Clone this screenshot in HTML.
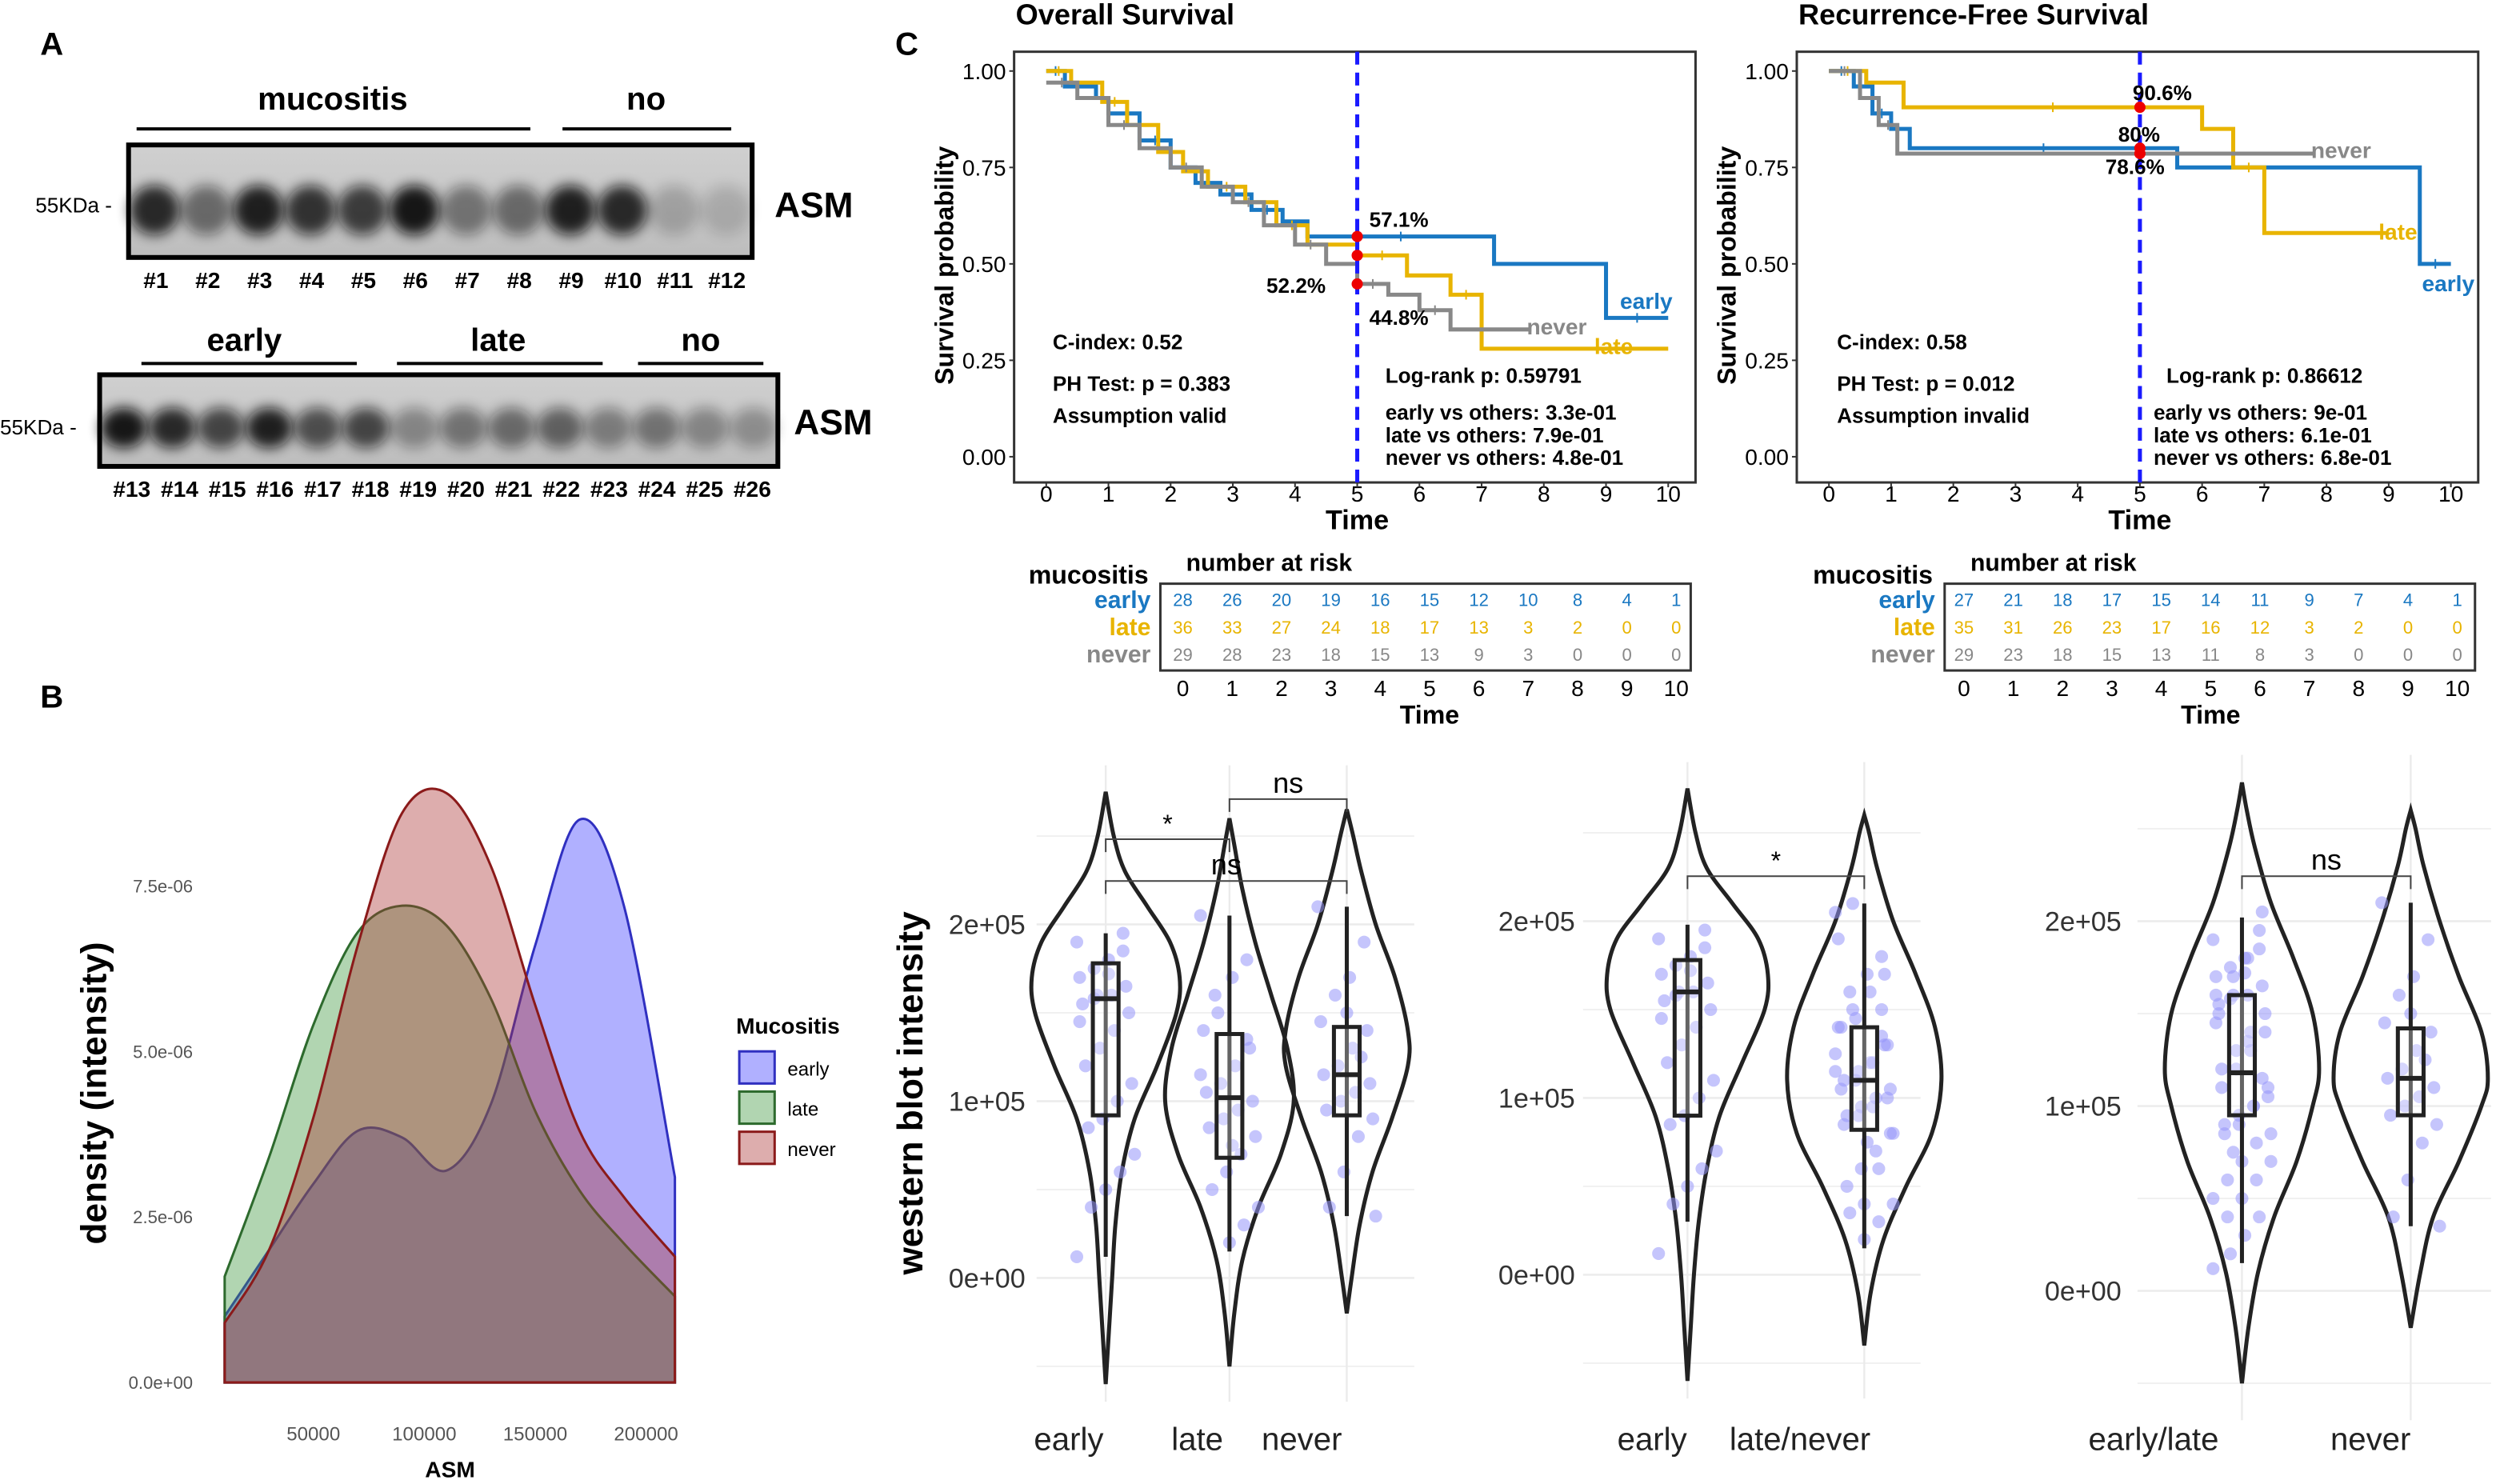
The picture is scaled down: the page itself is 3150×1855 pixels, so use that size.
<!DOCTYPE html>
<html><head><meta charset="utf-8"><style>
html,body{margin:0;padding:0;background:#fff;}
svg{display:block;}
text{font-family:"Liberation Sans",Arial,sans-serif;}
</style></head><body>
<svg id="fig" xmlns="http://www.w3.org/2000/svg" width="3150" height="1855" viewBox="0 0 1568 923">
<defs>
<filter id="blur" x="-50%" y="-50%" width="200%" height="200%"><feGaussianBlur stdDeviation="4"/></filter>
<linearGradient id="blotbg" x1="0" y1="0" x2="0" y2="1"><stop offset="0" stop-color="#d0d0d0"/><stop offset="1" stop-color="#bdbdbd"/></linearGradient>
</defs>
</svg>
<script>
// ---------- DATA ----------
const blotTop=[0.85,0.5,0.9,0.8,0.75,0.95,0.45,0.5,0.9,0.85,0.2,0.15];
const blotBottom=[0.95,0.85,0.7,0.9,0.65,0.7,0.35,0.45,0.5,0.55,0.4,0.45,0.35,0.3];
const densX=[10000,30000,50000,70000,90000,110000,130000,150000,170000,190000,213000];
const densEarly=[1.0,2.0,3.0,3.8,3.7,3.2,4.2,6.6,8.5,7.2,3.1];
const densLate=[1.6,3.4,5.4,6.8,7.2,6.9,5.8,4.1,2.9,2.1,1.3];
const densNever=[0.9,2.0,4.0,6.6,8.6,8.9,7.8,5.7,3.8,2.8,1.9];
const densYTicks=[0,2.5,5.0,7.5];
const densYLabels=["0.0e+00","2.5e-06","5.0e-06","7.5e-06"];
const densXTicks=[50000,100000,150000,200000];
const os_early_t=[0,0.3,0.8,1.0,1.5,2.0,2.4,2.8,3.3,3.8,4.2,7.2,9.0,10.0];
const os_early_s=[1,0.96,0.93,0.89,0.82,0.75,0.71,0.68,0.64,0.61,0.571,0.50,0.36,0.36];
const os_late_t=[0,0.4,0.9,1.3,1.8,2.2,2.6,3.2,3.7,4.2,5.0,5.8,6.5,7.0,10];
const os_late_s=[1,0.97,0.92,0.86,0.79,0.74,0.7,0.66,0.6,0.55,0.522,0.47,0.42,0.28,0.28];
const os_never_t=[0,0.5,1.0,1.5,2.0,2.5,3.0,3.5,4.0,4.5,5.0,5.5,6.0,6.5,7.8];
const os_never_s=[0.97,0.93,0.86,0.8,0.75,0.7,0.66,0.6,0.55,0.5,0.448,0.42,0.38,0.33,0.33];
const rfs_early_t=[0,0.4,0.7,1.0,1.3,5.6,9.5,10];
const rfs_early_s=[1,0.96,0.89,0.85,0.80,0.75,0.5,0.5];
const rfs_late_t=[0,0.6,1.2,6.0,6.5,7.0,9.0];
const rfs_late_s=[1,0.97,0.906,0.85,0.75,0.58,0.58];
const rfs_never_t=[0,0.5,0.8,1.1,7.8];
const rfs_never_s=[1,0.93,0.86,0.786,0.786];
const kmYTicks=[0,0.25,0.5,0.75,1.0];
const kmYLabels=["0.00","0.25","0.50","0.75","1.00"];
const kmXTicks=[0,1,2,3,4,5,6,7,8,9,10];
const risk1Early=[28,26,20,19,16,15,12,10,8,4,1];
const risk1Late=[36,33,27,24,18,17,13,3,2,0,0];
const risk1Never=[29,28,23,18,15,13,9,3,0,0,0];
const risk2Early=[27,21,18,17,15,14,11,9,7,4,1];
const risk2Late=[35,31,26,23,17,16,12,3,2,0,0];
const risk2Never=[29,23,18,15,13,11,8,3,0,0,0];
const vYTicks=[0,1,2];
const vYLabels=["0e+00","1e+05","2e+05"];
const v1EarlyVals=[-0.6,-0.3,0,0.3,0.6,0.9,1.2,1.5,1.7,1.9,2.1,2.3,2.5,2.75];
const v1EarlyW=[0,2,4,6,10,18,32,44,46,40,26,12,5,0];
const v1LateVals=[-0.5,-0.2,0.1,0.4,0.7,1.0,1.3,1.6,1.9,2.2,2.45,2.6];
const v1LateW=[0,3,8,18,32,40,36,26,16,8,3,0];
const v1NeverVals=[-0.2,0,0.3,0.6,0.9,1.2,1.4,1.7,2.0,2.3,2.5,2.65];
const v1NeverW=[0,3,8,16,28,38,38,30,18,9,4,0];
const v2EarlyVals=[-0.6,-0.3,0,0.3,0.6,0.9,1.2,1.5,1.7,1.9,2.1,2.3,2.5,2.75];
const v2EarlyW=[0,2,4,7,12,20,34,48,50,44,28,12,5,0];
const v2LNVals=[-0.4,-0.1,0.2,0.5,0.8,1.1,1.4,1.7,2.0,2.3,2.5,2.6];
const v2LNW=[0,4,12,26,42,48,44,32,18,8,3,0];
const v3ELVals=[-0.5,-0.2,0.1,0.4,0.7,1.0,1.2,1.5,1.8,2.1,2.4,2.6,2.75];
const v3ELW=[0,4,10,20,34,44,48,44,32,18,8,3,0];
const v3NVals=[-0.2,0.1,0.4,0.7,1.0,1.15,1.4,1.7,2.0,2.3,2.5,2.6];
const v3NW=[0,6,14,30,44,48,44,30,18,8,3,0];
const box1Early=[0.12,0.92,1.58,1.78,1.95];
const box1Late=[0.15,0.68,1.02,1.38,2.05];
const box1Never=[0.35,0.92,1.15,1.42,2.1];
const box2Early=[0.3,0.9,1.6,1.78,1.98];
const box2LN=[0.15,0.82,1.1,1.4,2.1];
const box3EL=[0.15,0.95,1.18,1.6,2.02];
const box3N=[0.35,0.95,1.15,1.42,2.1];
const ptsEarly=[1.9,1.85,1.8,1.75,1.7,1.65,1.6,1.6,1.55,1.5,1.4,1.3,1.2,1.1,1.0,0.9,0.85,0.7,0.6,0.5,0.4,0.12,1.95,1.72,1.58,1.45];
const ptsLate=[2.05,1.8,1.7,1.5,1.4,1.3,1.2,1.1,1.05,1.0,0.95,0.9,0.85,0.8,0.7,0.6,0.5,0.4,0.3,0.2,1.6,1.15,1.35,0.75];
const ptsNever=[2.1,1.9,1.7,1.6,1.45,1.4,1.3,1.2,1.15,1.1,1.05,1.0,0.95,0.9,0.8,0.6,0.4,0.35,1.25,1.5];

// ---------- HELPERS ----------
const NS='http://www.w3.org/2000/svg';
const svg=document.getElementById('fig');
function mk(tag,attrs,parent){const e=document.createElementNS(NS,tag);for(const k in attrs)e.setAttribute(k,attrs[k]);(parent||svg).appendChild(e);return e;}
function grp(name,parent){const g=mk('g',{},parent);


return g;}
function txt(x,y,s,size,extra,parent){const a=Object.assign({x:x,y:y,'font-size':size},extra||{});const t=mk('text',a,parent);t.textContent=s;

return t;}
function smooth(p){let d='M'+p[0][0]+','+p[0][1];for(let i=0;i<p.length-1;i++){const p0=p[i-1]||p[i],p1=p[i],p2=p[i+1],p3=p[i+2]||p2;
const c1=[p1[0]+(p2[0]-p0[0])/6,p1[1]+(p2[1]-p0[1])/6],c2=[p2[0]-(p3[0]-p1[0])/6,p2[1]-(p3[1]-p1[1])/6];
d+=' C'+c1[0]+','+c1[1]+' '+c2[0]+','+c2[1]+' '+p2[0]+','+p2[1];}return d;}

// ---------- PANEL A ----------
const gA=grp('panel-a-western-blot');
let t=txt(25,34,'A',20,{'font-weight':'bold'},gA);

function blot(x,y,w,h,vals,labelStart,labelX0,labelDx,labelY,name){
 const g=grp(name,gA);
 const r=mk('rect',{x:x,y:y,width:w,height:h,fill:'url(#blotbg)'},g);
 
 const lw=w/vals.length;
 vals.forEach((v,i)=>{const e=mk('ellipse',{cx:x+lw*(i+0.5),cy:y+h*0.58,rx:lw*0.48,ry:h*0.22,fill:'#111',opacity:v,filter:'url(#blur)'},g);
 
 const l=txt(labelX0+labelDx*i,labelY,'#'+(labelStart+i),14,{'font-weight':'bold','text-anchor':'middle'},g);
 });
 const b=mk('rect',{x:x,y:y,width:w,height:h,fill:'none',stroke:'#000','stroke-width':3},g);
 
}
blot(80,90,388,70,blotTop,1,97,32.3,179,'blot-top');
blot(62,233,422,57,blotBottom,13,82,29.7,309,'blot-bottom');
[[85,330,80,'mucositis',207,68],[350,455,80,'no',402,68],[88,222,226,'early',152,218],[247,375,226,'late',310,218],[397,475,226,'no',436,218]].forEach(a=>{
 const l=mk('line',{x1:a[0],x2:a[1],y1:a[2],y2:a[2],stroke:'#000','stroke-width':2},gA);
 
 const tt=txt(a[4],a[5],a[3],20,{'font-weight':'bold','text-anchor':'middle'},gA);
 });
t=txt(22,132,'55KDa -',13,{},gA);
t=txt(0,270,'55KDa -',13,{},gA);
t=txt(482,135,'ASM',22,{'font-weight':'bold'},gA);
t=txt(494,270,'ASM',22,{'font-weight':'bold'},gA);

// ---------- PANEL B ----------
const gB=grp('panel-b-density');
t=txt(25,440,'B',20,{'font-weight':'bold'},gB);
const dx=v=>195+(v-50000)*69/50000, dy=d=>860-d*41.2;
function dens(arr,fill,stroke,name){const pts=densX.map((v,i)=>[dx(v),dy(arr[i])]);
 const d=smooth(pts)+' L'+dx(densX[densX.length-1])+','+dy(0)+' L'+dx(densX[0])+','+dy(0)+' Z';
 const p=mk('path',{d:d,fill:fill,stroke:stroke,'stroke-width':1.5},gB);
 }
dens(densEarly,'rgba(80,80,255,0.45)','#3030c0','density-early');
dens(densLate,'rgba(60,150,60,0.4)','#2d6a2d','density-late');
dens(densNever,'rgba(170,50,50,0.4)','#8b1a1a','density-never');
densYTicks.forEach((v,i)=>{const l=txt(120,dy(v)+4,densYLabels[i],11,{'text-anchor':'end',fill:'#555'},gB);});
densXTicks.forEach(v=>{const l=txt(dx(v),896,String(v),12,{'text-anchor':'middle',fill:'#555'},gB);});
t=txt(280,919,'ASM',14,{'font-weight':'bold','text-anchor':'middle'},gB);
t=txt(0,0,'density (intensity)',22,{'font-weight':'bold','text-anchor':'middle',transform:'translate(66,680) rotate(-90)'},gB);
t=txt(458,643,'Mucositis',14,{'font-weight':'bold'},gB);
[['early','rgba(80,80,255,0.45)','#3030c0'],['late','rgba(60,150,60,0.4)','#2d6a2d'],['never','rgba(170,50,50,0.4)','#8b1a1a']].forEach((a,i)=>{
 const r=mk('rect',{x:460,y:654+i*25,width:22,height:20,fill:a[1],stroke:a[2],'stroke-width':1.5},gB);
 
 const l=txt(490,669+i*25,a[0],12,{},gB);});

// ---------- PANEL C: KM ----------
const gC=grp('panel-c-survival');
t=txt(557,34,'C',20,{'font-weight':'bold'},gC);
const yk=s=>284-s*240;
const colE='#1a78c2',colL='#e8b400',colN='#888';
function km(x0,boxX,title,curves,name,ann,texts){
 const g=grp(name,gC);
 const xk=tt=>x0+tt*38.7;
 const b=mk('rect',{x:boxX,y:32,width:424,height:268,fill:'none',stroke:'#333','stroke-width':1.5},g);
 
 const ti=txt(boxX+1,15,title,18,{'font-weight':'bold'},g);
 kmYTicks.forEach((v,i)=>{const l=txt(boxX-5,yk(v)+5,kmYLabels[i],14,{'text-anchor':'end'},g);
 const tk=mk('line',{x1:boxX-3,x2:boxX,y1:yk(v),y2:yk(v),stroke:'#333'},g);});
 kmXTicks.forEach(v=>{const l=txt(xk(v),312,String(v),14,{'text-anchor':'middle'},g);
 const tk=mk('line',{x1:xk(v),x2:xk(v),y1:300,y2:303,stroke:'#333'},g);});
 const tm=txt(xk(5),329,'Time',17,{'font-weight':'bold','text-anchor':'middle'},g);
 const yt=txt(0,0,'Survival probability',16,{'font-weight':'bold','text-anchor':'middle',transform:'translate('+(boxX-38)+',165) rotate(-90)'},g);
 curves.forEach(c=>{let d='M'+xk(c.t[0])+','+yk(c.s[0]);for(let i=1;i<c.t.length;i++){d+=' H'+xk(c.t[i])+' V'+yk(c.s[i]);}
  const p=mk('path',{d:d,fill:'none',stroke:c.col,'stroke-width':2.5},g);
  
  for(let i=1;i<c.t.length;i+=2){const m=mk('line',{x1:xk((c.t[i-1]+c.t[i])/2),x2:xk((c.t[i-1]+c.t[i])/2),y1:yk(c.s[i-1])-3,y2:yk(c.s[i-1])+3,stroke:c.col,'stroke-width':1},g);
  }
  const l=txt(c.lx,c.ly,c.n,14,{'font-weight':'bold',fill:c.col},g);});
 const dl=mk('line',{x1:xk(5),x2:xk(5),y1:32,y2:300,stroke:'#1a1aff','stroke-width':2.5,'stroke-dasharray':'8,5'},g);
 
 ann.forEach(a=>{const c=mk('circle',{cx:xk(5),cy:yk(a[0]),r:3.5,fill:'#e00'},g);
  const l=txt(a[1],a[2],a[3],13,{'font-weight':'bold'},g);});
 texts.forEach(a=>{const l=txt(a[0],a[1],a[2],13,{'font-weight':'bold'},g);});
}
km(651,631,'Overall Survival',[
 {t:os_early_t,s:os_early_s,col:colE,n:'early',lx:1008,ly:192},
 {t:os_late_t,s:os_late_s,col:colL,n:'late',lx:992,ly:220},
 {t:os_never_t,s:os_never_s,col:colN,n:'never',lx:950,ly:208}],'km-overall-survival',
 [[0.571,852,141,'57.1%'],[0.522,788,182,'52.2%'],[0.448,852,202,'44.8%']],
 [[655,217,'C-index: 0.52'],[655,243,'PH Test: p = 0.383'],[655,263,'Assumption valid'],[862,238,'Log-rank p: 0.59791'],[862,261,'early vs others:  3.3e-01'],[862,275,'late vs others:  7.9e-01'],[862,289,'never vs others:  4.8e-01']]);
km(1138,1118,'Recurrence-Free Survival',[
 {t:rfs_early_t,s:rfs_early_s,col:colE,n:'early',lx:1507,ly:181},
 {t:rfs_late_t,s:rfs_late_s,col:colL,n:'late',lx:1480,ly:149},
 {t:rfs_never_t,s:rfs_never_s,col:colN,n:'never',lx:1438,ly:98}],'km-recurrence-free-survival',
 [[0.906,1327,62,'90.6%'],[0.8,1318,88,'80%'],[0.786,1310,108,'78.6%']],
 [[1143,217,'C-index: 0.58'],[1143,243,'PH Test: p = 0.012'],[1143,263,'Assumption invalid'],[1348,238,'Log-rank p: 0.86612'],[1340,261,'early vs others:  9e-01'],[1340,275,'late vs others:  6.1e-01'],[1340,289,'never vs others:  6.8e-01']]);

function risk(x0,boxX,rows,name){
 const g=grp(name,gC);
 const xr=tt=>x0+tt*30.7;
 let l=txt(boxX-82,363,'mucositis',16,{'font-weight':'bold'},g);
 l=txt(boxX+16,355,'number at risk',15,{'font-weight':'bold'},g);
 const b=mk('rect',{x:boxX,y:363,width:330,height:54,fill:'none',stroke:'#333','stroke-width':1.5},g);
 rows.forEach((r,j)=>{const y=378+j*17;
  const lb=txt(boxX-6,y,r.n,15,{'text-anchor':'end',fill:r.col,'font-weight':'bold'},g);
  r.v.forEach((v,i)=>{const c=txt(xr(i),y-1,String(v),11,{'text-anchor':'middle',fill:r.col},g);});});
 kmXTicks.forEach(v=>{const c=txt(xr(v),433,String(v),14,{'text-anchor':'middle'},g);});
 l=txt(xr(5),450,'Time',16,{'font-weight':'bold','text-anchor':'middle'},g);
}
risk(736,722,[{n:'early',v:risk1Early,col:colE},{n:'late',v:risk1Late,col:colL},{n:'never',v:risk1Never,col:colN}],'risk-table-overall');
risk(1222,1210,[{n:'early',v:risk2Early,col:colE},{n:'late',v:risk2Late,col:colL},{n:'never',v:risk2Never,col:colN}],'risk-table-recurrence');

// ---------- VIOLINS ----------
const gV=grp('violin-plots');
function violinPanel(name,y0,k,labX,gridX1,gridX2,groups,brackets){
 const g=grp(name,gV);
 const yv=v=>y0-v*k;
 [-0.5,0,0.5,1,1.5,2,2.5].forEach(v=>{const l=mk('line',{x1:gridX1,x2:gridX2,y1:yv(v),y2:yv(v),stroke:'#ebebeb','stroke-width':v%1===0?1.2:0.7},g);});
 groups.forEach(G=>{const l=mk('line',{x1:G.cx,x2:G.cx,y1:yv(-0.7),y2:yv(2.9),stroke:'#ebebeb','stroke-width':1.2},g);});
 vYTicks.forEach((v,i)=>{const l=txt(labX,yv(v)+6,vYLabels[i],17,{'text-anchor':'end',fill:'#333'},g);});
 groups.forEach(G=>{
  const right=G.vals.map((v,i)=>[G.cx+G.w[i],yv(v)]);
  const left=G.vals.slice().reverse().map((v,i)=>[G.cx-G.w[G.w.length-1-i],yv(v)]);
  const p=mk('path',{d:smooth(right)+' '+smooth(left).replace('M','L')+' Z',fill:'none',stroke:'#222','stroke-width':2.5},g);
  
  G.pts.forEach((v,i)=>{const j=((i*37)%21-10)*1.8;const c=mk('circle',{cx:G.cx+j,cy:yv(v),r:4,fill:'rgba(150,150,250,0.55)'},g);
  });
  const b=G.box;
  const wl=mk('line',{x1:G.cx,x2:G.cx,y1:yv(b[0]),y2:yv(b[4]),stroke:'#222','stroke-width':2.5},g);
  const r=mk('rect',{x:G.cx-8,y:yv(b[3]),width:16,height:yv(b[1])-yv(b[3]),fill:'#fff','fill-opacity':0.3,stroke:'#222','stroke-width':2.5},g);
  const m=mk('line',{x1:G.cx-8,x2:G.cx+8,y1:yv(b[2]),y2:yv(b[2]),stroke:'#222','stroke-width':3},g);
  const xl=txt(G.lx,902,G.n,20,{'text-anchor':'middle',fill:'#222'},g);});
 brackets.forEach(B=>{const p=mk('path',{d:'M'+B[0]+','+(B[2]+8)+' V'+B[2]+' H'+B[1]+' V'+(B[2]+8),fill:'none',stroke:'#444','stroke-width':1},g);
  
  const l=txt((B[0]+B[1])/2,B[2]-4,B[3],B[3]==='*'?16:18,{'text-anchor':'middle'},g);});
}
violinPanel('violin-panel-3groups',795,110,638,645,880,[
 {n:'early',cx:688,lx:665,vals:v1EarlyVals,w:v1EarlyW,box:box1Early,pts:ptsEarly},
 {n:'late',cx:765,lx:745,vals:v1LateVals,w:v1LateW,box:box1Late,pts:ptsLate},
 {n:'never',cx:838,lx:810,vals:v1NeverVals,w:v1NeverW,box:box1Never,pts:ptsNever}],
 [[688,765,522,'*'],[765,838,497,'ns'],[688,838,548,'ns']]);
violinPanel('violin-panel-early-vs-late-never',793,110,980,985,1195,[
 {n:'early',cx:1050,lx:1028,vals:v2EarlyVals,w:v2EarlyW,box:box2Early,pts:ptsEarly},
 {n:'late/never',cx:1160,lx:1120,vals:v2LNVals,w:v2LNW,box:box2LN,pts:ptsLate.concat(ptsNever)}],
 [[1050,1160,545,'*']]);
violinPanel('violin-panel-early-late-vs-never',803,115,1320,1330,1550,[
 {n:'early/late',cx:1395,lx:1340,vals:v3ELVals,w:v3ELW,box:box3EL,pts:ptsEarly.concat(ptsLate)},
 {n:'never',cx:1500,lx:1475,vals:v3NVals,w:v3NW,box:box3N,pts:ptsNever}],
 [[1395,1500,545,'ns']]);
t=txt(0,0,'western blot intensity',22,{'font-weight':'bold','text-anchor':'middle',transform:'translate(574,680) rotate(-90)'},gV);

</script>
</body></html>
